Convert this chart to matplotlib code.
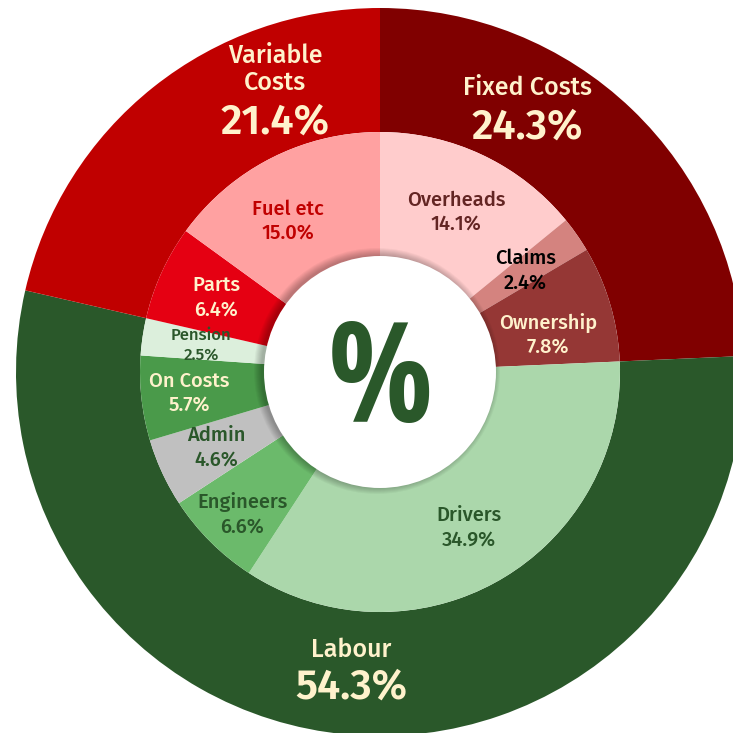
import numpy as np
import matplotlib
matplotlib.use("Agg")
import matplotlib.pyplot as plt
from matplotlib.patches import Circle

# outer ring: cost groups (clockwise from 12 o'clock)
group_names = ["Fixed Costs", "Labour", "Variable\nCosts"]
group_values = [24.3, 54.3, 21.4]
group_colors = ["#800000", "#2A582A", "#C00000"]

# inner ring: cost items
item_names = ["Overheads", "Claims", "Ownership", "Drivers", "Engineers",
              "Admin", "On Costs", "Pension", "Parts", "Fuel etc"]
item_values = [14.1, 2.4, 7.8, 34.9, 6.6, 4.6, 5.7, 2.5, 6.4, 15.0]
item_colors = ["#FFCCCC", "#D4837F", "#953735", "#ABD7AB", "#6BBA6B",
               "#C0C0C0", "#4A9A4A", "#DCEFDC", "#E50012", "#FFA1A1"]
item_text_colors = ["#632523", "#000000", "#FFF2CC", "#2A572A", "#2A572A",
                    "#2A572A", "#FFF2CC", "#2A572A", "#FFF2CC", "#C00000"]

CREAM = "#FFF2CC"
GREEN = "#2A582A"
FONT = ["Fira Sans", "DejaVu Sans"]

CX, CY = 380, 361          # centre of the rings, pixel units (y up)
R_OUT, R_MID, R_HOLE = 364, 240, 116

fig = plt.figure(figsize=(7.33, 7.33), dpi=100)
ax = fig.add_axes([0, 0, 1, 1])

ax.pie(group_values, colors=group_colors, radius=R_OUT, center=(CX, CY),
       startangle=90, counterclock=False, frame=True,
       wedgeprops=dict(width=R_OUT - R_MID, linewidth=0))
ax.pie(item_values, colors=item_colors, radius=R_MID, center=(CX, CY),
       startangle=90, counterclock=False, frame=True,
       wedgeprops=dict(width=R_MID - R_HOLE + 5, linewidth=0))
ax.set_xlim(0, 733)
ax.set_ylim(0, 733)
ax.set_aspect("equal")
ax.axis("off")

# soft shadow under the centre hole
for k in range(8):
    ax.add_patch(Circle((CX - 3, CY + 1), R_HOLE + 7 - k, color="black",
                        alpha=0.035, lw=0, zorder=3))
ax.add_patch(Circle((CX, CY), R_HOLE, color="white", lw=0, zorder=4))
ax.text(CX, 733 - 422, "%", fontsize=100, fontweight="bold", color=GREEN,
        family=["Open Sans Condensed", "Open Sans", "DejaVu Sans"],
        ha="center", va="baseline", zorder=5)


def polar(angle_deg, r):
    a = np.radians(angle_deg)
    return CX + r * np.sin(a), CY + r * np.cos(a)


# inner labels at wedge mid-angles
cum = np.cumsum([0] + item_values)
nudge_angle = [0, 0, 4, 0, -1, 0, 0, 0, 0, -4.5]
nudge_r = [177, 177, 172, 179, 198, 180, 192, 181, 180, 177]
for i, name in enumerate(item_names):
    mid = (cum[i] + cum[i + 1]) / 2 * 3.6 + nudge_angle[i]
    x, y = polar(mid, nudge_r[i])
    size = 12 if name == "Pension" else 14.5
    gap = 10 if name == "Pension" else 12
    ax.text(x, y + gap, name, fontsize=size, color=item_text_colors[i],
            family=FONT, fontweight="medium", ha="center", va="center", zorder=6)
    ax.text(x, y - gap, f"{item_values[i]:.1f}%", fontsize=size,
            color=item_text_colors[i], family=FONT, fontweight="medium",
            ha="center", va="center", zorder=6)

# outer labels
outer_pos = [(31, 286, 39), (185.2, 317, 38), (-22.8, 271, 53)]
for name, val, (ang, r, up) in zip(group_names, group_values, outer_pos):
    x, y = polar(ang, r)
    ax.text(x, y + up, name, fontsize=18, color=CREAM, family=FONT,
            fontweight="medium", ha="center", va="center", linespacing=1.1)
    ax.text(x, y, f"{val:.1f}%", fontsize=30, color=CREAM, family=FONT,
            fontweight="semibold", ha="center", va="center")

fig.savefig("out.png", dpi=100, facecolor="white")
